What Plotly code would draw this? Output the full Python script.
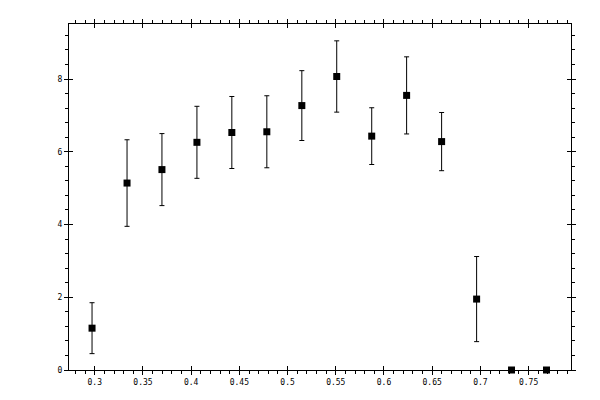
import plotly.graph_objects as go

# bin centres and measured values with symmetric errors
x_vals = [0.2972, 0.3335, 0.3697, 0.4060, 0.4422, 0.4785, 0.5148,
          0.5510, 0.5873, 0.6235, 0.6598, 0.6961, 0.7323, 0.7686]
y_vals = [1.15, 5.14, 5.51, 6.26, 6.53, 6.55, 7.27,
          8.07, 6.43, 7.55, 6.28, 1.95, 0.0, 0.0]
y_err = [0.70, 1.19, 0.99, 0.99, 0.99, 0.99, 0.96,
         0.98, 0.78, 1.06, 0.80, 1.17, 0.0, 0.0]

x_ticks = [0.3, 0.35, 0.4, 0.45, 0.5, 0.55, 0.6, 0.65, 0.7, 0.75]
x_labels = ["0.3", "0.35", "0.4", "0.45", "0.5", "0.55", "0.6", "0.65", "0.7", "0.75"]
y_ticks = [0, 2, 4, 6, 8]
y_labels = ["0", "2", "4", "6", "8"]

X_RANGE = [0.2733, 0.7940]
Y_RANGE = [0, 9.513]

fig = go.Figure()
fig.add_trace(go.Scatter(
    x=x_vals, y=y_vals, mode="markers",
    marker=dict(symbol="square", size=7, color="black"),
    error_y=dict(type="data", array=y_err, visible=True,
                 color="black", thickness=1, width=2.5),
    cliponaxis=False, showlegend=False,
))
# empty trace so the overlay axes (inside half of the major ticks) exist
fig.add_trace(go.Scatter(x=[], y=[], xaxis="x2", yaxis="y2", showlegend=False))

tick_font = dict(family="DejaVu Sans Mono, monospace", size=8, color="black")

# page body has an 8px margin, so the figure is a bit smaller than the window
fig.update_layout(
    width=592, height=392,
    margin=dict(l=61, r=29, t=11, b=30),
    paper_bgcolor="white", plot_bgcolor="white",
    xaxis=dict(
        range=X_RANGE, tickvals=x_ticks, ticktext=x_labels,
        showgrid=False, zeroline=False,
        showline=True, linecolor="black", linewidth=1, mirror="ticks",
        ticks="outside", ticklen=4, tickwidth=1, tickcolor="black",
        minor=dict(ticks="outside", ticklen=3, tickwidth=1,
                   tickcolor="black", dtick=0.01, showgrid=False),
        tickfont=tick_font,
    ),
    yaxis=dict(
        range=Y_RANGE, tickvals=y_ticks, ticktext=y_labels,
        showgrid=False, zeroline=False,
        showline=True, linecolor="black", linewidth=1, mirror="ticks",
        ticks="outside", ticklen=4, tickwidth=1, tickcolor="black",
        minor=dict(ticks="outside", ticklen=3, tickwidth=1,
                   tickcolor="black", dtick=0.4, showgrid=False),
        tickfont=tick_font,
    ),
    xaxis2=dict(
        range=X_RANGE, overlaying="x", anchor="y2", side="bottom",
        tickvals=x_ticks, showticklabels=False,
        showgrid=False, zeroline=False, showline=False, mirror="ticks",
        ticks="inside", ticklen=4, tickwidth=1, tickcolor="black",
    ),
    yaxis2=dict(
        range=Y_RANGE, overlaying="y", anchor="x2", side="left",
        tickvals=y_ticks, showticklabels=False,
        showgrid=False, zeroline=False, showline=False, mirror="ticks",
        ticks="inside", ticklen=4, tickwidth=1, tickcolor="black",
    ),
)

fig.write_html("out.html")
